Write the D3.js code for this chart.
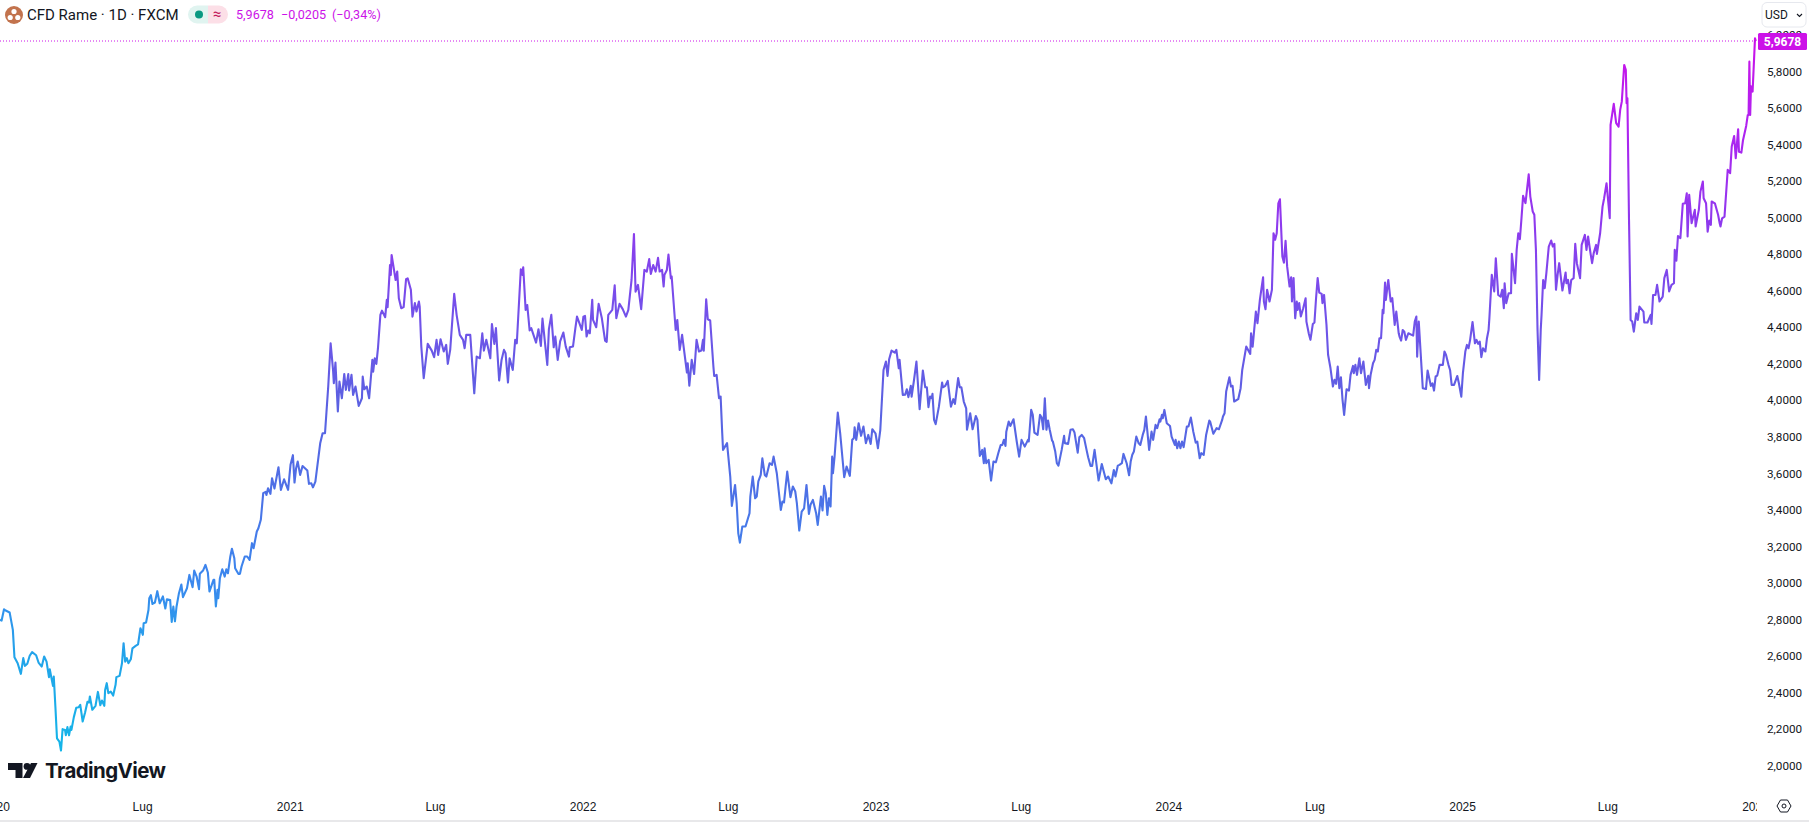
<!DOCTYPE html>
<html lang="it">
<head>
<meta charset="utf-8">
<title>CFD Rame</title>
<script src="https://cdn.jsdelivr.net/npm/d3@7"></script>
<style>
  html, body { margin: 0; padding: 0; background: #fff; }
  svg { display: block; font-family: Roboto, "Noto Sans", sans-serif; }
</style>
</head>
<body>
<svg id="chart" width="1809" height="822"></svg>
<script>
// Copper CFD daily closes: calendar days since the start of 2020, and prices in USD.
const startDate = new Date(2020, 0, 1);
const days = [
  5,7,10,12,17,21,23,27,31,34,
  36,39,42,45,50,53,57,60,63,66,
  67,71,72,74,76,79,81,83,86,87,
  89,91,93,94,97,100,103,105,108,111,
  114,116,117,120,124,127,130,132,135,136,
  138,140,143,146,149,150,154,157,159,161,
  163,165,168,170,174,177,180,183,184,187,
  190,191,193,195,198,201,204,208,211,213,
  217,219,221,223,225,228,231,233,238,241,
  245,247,250,253,254,258,261,264,266,271,
  272,274,276,277,279,282,285,287,289,292,
  294,297,298,302,304,306,310,313,316,319,
  321,325,327,330,333,336,337,339,342,344,
  347,352,355,359,364,367,370,372,374,376,
  379,382,388,390,393,395,398,404,407,410,
  414,417,420,421,423,426,428,431,434,436,
  439,440,443,445,448,452,456,457,459,462,
  465,469,470,472,474,476,479,481,485,487,
  488,491,492,493,498,500,502,505,508,511,
  513,517,519,522,524,527,528,530,533,538,
  543,546,549,551,554,558,561,563,566,571,
  574,578,582,584,586,591,596,599,603,606,
  608,611,616,618,621,623,627,630,633,635,
  638,640,644,647,649,654,656,657,660,662,
  665,667,673,676,679,681,687,689,692,695,
  697,700,703,707,710,714,715,719,722,724,
  727,730,732,734,736,738,740,743,744,748,
  751,755,759,761,763,768,771,773,777,781,
  785,788,792,795,797,800,804,808,811,814,
  816,819,822,825,827,830,832,833,836,838,
  841,842,847,849,852,855,861,862,864,867,
  870,873,876,879,881,882,885,887,890,894,
  895,898,901,903,905,906,911,915,917,921,
  923,925,927,930,934,939,940,943,946,948,
  950,953,955,958,960,964,967,969,973,978,
  980,982,984,986,990,993,996,998,1001,1004,
  1007,1010,1013,1015,1018,1022,1024,1028,1030,1032,
  1034,1036,1038,1040,1042,1043,1045,1049,1052,1057,
  1060,1064,1067,1069,1070,1072,1075,1078,1081,1084,
  1087,1090,1092,1096,1099,1102,1106,1109,1111,1113,
  1116,1120,1122,1125,1126,1130,1133,1135,1137,1140,
  1141,1144,1147,1151,1155,1158,1160,1162,1164,1166,
  1167,1169,1171,1175,1179,1180,1183,1186,1190,1193,
  1195,1199,1201,1203,1206,1209,1210,1214,1217,1221,
  1223,1226,1229,1231,1232,1234,1237,1240,1243,1246,
  1249,1252,1254,1256,1258,1259,1262,1264,1268,1272,
  1275,1278,1282,1286,1287,1290,1292,1294,1298,1301,
  1303,1305,1307,1309,1311,1313,1316,1317,1320,1322,
  1324,1328,1331,1332,1336,1339,1342,1344,1348,1350,
  1353,1356,1359,1361,1364,1366,1369,1374,1378,1383,
  1386,1390,1393,1395,1398,1400,1403,1405,1409,1412,
  1414,1416,1418,1421,1424,1426,1429,1431,1433,1437,
  1440,1442,1445,1447,1450,1451,1453,1454,1456,1459,
  1463,1465,1469,1470,1472,1474,1476,1478,1480,1484,
  1486,1489,1492,1495,1497,1500,1502,1505,1508,1512,
  1513,1517,1521,1524,1528,1529,1531,1533,1537,1539,
  1541,1543,1548,1551,1553,1558,1563,1564,1566,1570,
  1572,1575,1579,1580,1582,1584,1587,1590,1592,1594,
  1596,1598,1600,1603,1605,1607,1609,1612,1614,1615,
  1617,1619,1621,1622,1624,1626,1629,1632,1633,1636,
  1638,1641,1643,1645,1647,1649,1652,1653,1655,1658,
  1660,1663,1666,1668,1670,1672,1674,1676,1678,1680,
  1683,1686,1688,1691,1692,1694,1696,1699,1701,1704,
  1707,1710,1711,1713,1716,1718,1720,1722,1724,1726,
  1728,1729,1731,1732,1735,1738,1740,1743,1745,1748,
  1749,1751,1753,1755,1757,1760,1766,1768,1770,1771,
  1773,1778,1782,1784,1788,1790,1792,1794,1796,1799,
  1803,1805,1807,1810,1812,1814,1817,1821,1823,1826,
  1828,1831,1833,1835,1837,1840,1843,1845,1847,1849,
  1851,1853,1856,1858,1860,1861,1864,1867,1869,1872,
  1875,1877,1879,1880,1882,1885,1888,1889,1893,1895,
  1897,1899,1901,1903,1906,1910,1912,1915,1917,1919,
  1921,1923,1925,1926,1928,1930,1932,1935,1938,1940,
  1942,1944,1946,1948,1952,1956,1957,1959,1961,1963,
  1966,1968,1970,1974,1976,1980,1982,1984,1987,1989,
  1991,1994,1995,1999,2002,2004,2007,2011,2012,2016,
  2019,2022,2024,2026,2029,2031,2032,2033,2035,2037,
  2039,2041,2044,2046,2048,2053,2054,2058,2062,2063,
  2065,2068,2070,2073,2077,2079,2082,2085,2088,2091,
  2092,2094,2096,2099,2102,2105,2107,2108,2110,2113,
  2117,2118,2122,2124,2127,2128,2131,2133,2135,2137,
  2138,2142,2146,2148,2149,2151,2154,2158,2161,2163,
  2166,2168,2171,2172,2175,2177,2181,2183,2184,2185,
  2186,2187,2189,2192,2193
];
const closes = [
  2.797,2.793,2.855,2.848,2.837,2.742,2.592,2.559,2.501,2.587,
  2.545,2.556,2.600,2.620,2.603,2.563,2.541,2.596,2.568,2.483,
  2.526,2.435,2.486,2.322,2.148,2.130,2.081,2.198,2.194,2.165,
  2.209,2.165,2.212,2.194,2.264,2.315,2.318,2.331,2.240,2.289,
  2.348,2.344,2.377,2.304,2.326,2.402,2.329,2.355,2.326,2.413,
  2.450,2.395,2.404,2.382,2.441,2.483,2.490,2.559,2.669,2.568,
  2.587,2.559,2.581,2.641,2.654,2.662,2.751,2.715,2.778,2.782,
  2.851,2.915,2.932,2.884,2.892,2.954,2.888,2.925,2.859,2.910,
  2.906,2.786,2.870,2.789,2.870,2.943,2.990,2.921,2.970,3.043,
  2.976,3.067,3.034,2.965,3.049,3.067,3.098,3.056,2.952,3.016,
  3.016,2.870,2.961,2.915,3.025,3.074,3.034,3.074,3.052,3.144,
  3.186,3.134,3.080,3.049,3.049,3.089,3.144,3.144,3.125,3.217,
  3.189,3.281,3.299,3.345,3.491,3.498,3.481,3.518,3.487,3.573,
  3.516,3.633,3.509,3.567,3.509,3.646,3.699,3.549,3.628,3.664,
  3.591,3.640,3.615,3.542,3.545,3.523,3.554,3.764,3.819,3.819,
  4.075,4.312,4.166,4.093,4.206,3.938,4.102,4.011,4.144,4.057,
  4.143,4.053,4.139,4.029,4.075,3.969,4.011,4.130,4.060,4.075,
  4.011,4.221,4.157,4.230,4.199,4.285,4.468,4.491,4.455,4.550,
  4.510,4.741,4.687,4.796,4.659,4.705,4.559,4.504,4.510,4.663,
  4.668,4.605,4.458,4.532,4.486,4.541,4.513,4.294,4.121,4.309,
  4.272,4.236,4.331,4.248,4.334,4.267,4.303,4.199,4.276,4.583,
  4.468,4.358,4.331,4.285,4.358,4.358,4.038,4.239,4.230,4.367,
  4.272,4.331,4.230,4.418,4.309,4.395,4.108,4.221,4.276,4.258,
  4.097,4.230,4.166,4.331,4.312,4.718,4.687,4.729,4.495,4.522,
  4.382,4.395,4.316,4.389,4.298,4.447,4.194,4.389,4.468,4.290,
  4.349,4.221,4.322,4.371,4.294,4.239,4.290,4.294,4.395,4.458,
  4.422,4.385,4.458,4.462,4.349,4.382,4.367,4.550,4.440,4.400,
  4.528,4.449,4.327,4.320,4.468,4.495,4.630,4.449,4.528,4.499,
  4.458,4.495,4.659,4.911,4.595,4.632,4.499,4.714,4.705,4.773,
  4.692,4.741,4.705,4.780,4.705,4.714,4.623,4.687,4.714,4.798,
  4.668,4.678,4.385,4.440,4.276,4.358,4.152,4.203,4.080,4.221,
  4.144,4.331,4.267,4.272,4.331,4.272,4.553,4.444,4.437,4.185,
  4.133,4.139,4.011,4.020,3.819,3.728,3.765,3.582,3.421,3.536,
  3.436,3.271,3.220,3.308,3.308,3.381,3.472,3.582,3.463,3.472,
  3.555,3.591,3.682,3.591,3.582,3.655,3.646,3.691,3.600,3.399,
  3.445,3.440,3.527,3.609,3.469,3.527,3.500,3.436,3.286,3.390,
  3.408,3.536,3.377,3.427,3.454,3.381,3.317,3.472,3.396,3.531,
  3.491,3.372,3.463,3.418,3.691,3.600,3.691,3.932,3.819,3.578,
  3.637,3.586,3.783,3.792,3.852,3.783,3.874,3.805,3.856,3.765,
  3.810,3.761,3.841,3.819,3.737,3.838,4.166,4.212,4.133,4.225,
  4.272,4.261,4.276,4.175,4.221,4.029,4.031,4.060,4.017,4.079,
  4.020,4.111,4.212,3.951,4.163,4.071,4.071,3.962,4.020,4.011,
  4.035,3.892,3.869,3.965,4.097,4.071,4.079,4.106,3.965,4.006,
  3.980,4.121,4.071,4.071,3.993,3.956,3.838,3.929,3.841,3.914,
  3.892,3.695,3.728,3.655,3.737,3.655,3.673,3.560,3.664,3.660,
  3.710,3.755,3.755,3.783,3.750,3.828,3.883,3.859,3.896,3.774,
  3.691,3.783,3.746,3.783,3.774,3.947,3.920,3.823,3.810,3.920,
  3.907,3.841,4.011,3.838,3.889,3.841,3.779,3.774,3.719,3.655,
  3.642,3.728,3.805,3.765,3.761,3.838,3.841,3.823,3.713,3.797,
  3.810,3.792,3.728,3.688,3.640,3.640,3.728,3.560,3.651,3.567,
  3.582,3.545,3.618,3.582,3.642,3.646,3.655,3.706,3.655,3.589,
  3.664,3.701,3.719,3.801,3.764,3.755,3.810,3.838,3.911,3.728,
  3.828,3.783,3.865,3.847,3.896,3.883,3.920,3.901,3.947,3.874,
  3.859,3.801,3.755,3.783,3.737,3.774,3.737,3.774,3.743,3.856,
  3.856,3.905,3.828,3.768,3.774,3.682,3.710,3.701,3.810,3.889,
  3.883,3.816,3.847,3.841,3.892,3.911,3.929,4.048,4.126,4.075,
  4.079,3.993,4.006,4.066,4.166,4.294,4.254,4.367,4.294,4.486,
  4.422,4.550,4.674,4.541,4.499,4.605,4.541,4.605,4.915,4.879,
  4.915,5.079,5.101,4.787,4.754,4.873,4.732,4.623,4.674,4.541,
  4.669,4.449,4.541,4.495,4.532,4.459,4.504,4.559,4.431,4.364,
  4.331,4.418,4.426,4.559,4.669,4.590,4.583,4.532,4.577,4.413,
  4.249,4.175,4.075,4.112,4.090,4.185,4.066,4.126,4.002,3.920,
  4.060,4.053,4.139,4.188,4.148,4.194,4.139,4.230,4.148,4.212,
  4.084,4.134,4.066,4.139,4.203,4.221,4.276,4.267,4.340,4.340,
  4.495,4.477,4.645,4.550,4.659,4.541,4.559,4.413,4.486,4.367,
  4.349,4.327,4.385,4.376,4.331,4.367,4.354,4.431,4.459,4.239,
  4.431,4.066,4.062,4.163,4.079,4.093,4.053,4.130,4.135,4.194,
  4.194,4.267,4.248,4.194,4.166,4.084,4.084,4.133,4.093,4.020,
  4.148,4.267,4.303,4.285,4.331,4.429,4.312,4.331,4.309,4.321,
  4.236,4.285,4.267,4.340,4.385,4.450,4.687,4.596,4.778,4.577,
  4.568,4.605,4.504,4.641,4.532,4.586,4.586,4.802,4.641,4.824,
  4.915,4.882,4.997,5.120,5.080,5.238,5.116,5.034,5.016,4.824,
  4.386,4.111,4.386,4.468,4.659,4.614,4.696,4.842,4.875,4.842,
  4.857,4.605,4.687,4.751,4.601,4.700,4.641,4.659,4.586,4.659,
  4.669,4.857,4.751,4.669,4.851,4.906,4.824,4.897,4.806,4.751,
  4.806,4.851,4.802,4.915,5.061,5.107,5.189,4.997,5.509,5.624,
  5.518,5.499,5.591,5.636,5.837,5.810,5.627,5.655,4.988,4.440,
  4.431,4.376,4.477,4.440,4.513,4.486,4.426,4.426,4.468,4.418,
  4.577,4.577,4.632,4.541,4.568,4.669,4.714,4.596,4.632,4.641,
  4.824,4.765,4.900,4.888,5.076,5.079,5.134,4.897,5.125,4.970,
  5.043,4.952,5.043,5.143,5.198,5.107,5.079,4.924,4.985,4.961,
  5.089,5.079,5.016,4.970,4.952,4.997,5.006,5.262,5.244,5.390,
  5.448,5.326,5.485,5.362,5.357,5.423,5.503,5.563,5.563,5.855,
  5.563,5.720,5.691,5.983,5.9678
];

// Axis contents
const priceTicks = [2,2.2,2.4,2.6,2.8,3,3.2,3.4,3.6,3.8,4,4.2,4.4,4.6,4.8,5,5.2,5.4,5.6,5.8,6];
const timeTicks = ["2020-01-01","2020-07-01","2021-01-01","2021-07-01","2022-01-01","2022-07-01","2023-01-01","2023-07-01","2024-01-01","2024-07-01","2025-01-01","2025-07-01","2026-01-01"];
const timeLabels = ["2020","Lug","2021","Lug","2022","Lug","2023","Lug","2024","Lug","2025","Lug","2026"];

// Line gradient, keyed by price level
const gradientPrices = [2.0,2.6,3.0,3.5,4.0,4.5,5.0,5.5,6.0];
const gradientColors = ["#12b8e8","#22a4ea","#3a88ee","#4d70e6","#5c60e2","#7450ea","#9038ee","#b022f0","#cc12e8"];

// Header readout
const symbolTitle = "CFD Rame · 1D · FXCM";
const lastPrice = 5.9678;
const lastChange = "−0,0205";
const lastChangePct = "(−0,34%)";
const currency = "USD";

const accent = "#cc12e8";
const axisInk = "#131722";
const plotRight = 1757;

const svg = d3.select("#chart");
const parseDate = d3.utcParse("%Y-%m-%d");
const series = days.map((d, i) => ({ date: d3.timeDay.offset(startDate, d), close: closes[i] }));

const x = d3.scaleTime()
  .domain([startDate, new Date(2026, 0, 1)])
  .range([-4, 1755]);
const y = d3.scaleLinear()
  .domain([2, 5.8])
  .range([765.3, 71.7]);

const comma = d3.formatLocale({ decimal: ",", thousands: ".", grouping: [3], currency: ["", ""] });
const priceFormat = comma.format(".4f");

const defs = svg.append("defs");
defs.append("clipPath").attr("id", "plot-clip")
  .append("rect").attr("x", 0).attr("y", 0).attr("width", plotRight).attr("height", 822);

const gradient = defs.append("linearGradient")
  .attr("id", "line-gradient")
  .attr("gradientUnits", "userSpaceOnUse")
  .attr("x1", 0).attr("x2", 0)
  .attr("y1", y(gradientPrices[0]))
  .attr("y2", y(gradientPrices[gradientPrices.length - 1]));
gradient.selectAll("stop").data(gradientPrices).join("stop")
  .attr("offset", d => (d - gradientPrices[0]) / (gradientPrices[gradientPrices.length - 1] - gradientPrices[0]))
  .attr("stop-color", (d, i) => gradientColors[i]);

// Bottom strip of the time scale
svg.append("rect").attr("x", 0).attr("y", 820).attr("width", 1809).attr("height", 2).attr("fill", "#e8e8ea");

// Last-price dotted guide
svg.append("line")
  .attr("x1", 0).attr("x2", plotRight)
  .attr("y1", Math.round(y(lastPrice))).attr("y2", Math.round(y(lastPrice)))
  .attr("stroke", accent).attr("stroke-width", 1).attr("stroke-dasharray", "1 2");

// Price line
svg.append("g").attr("clip-path", "url(#plot-clip)")
  .append("path")
  .datum(series)
  .attr("fill", "none")
  .attr("stroke", "url(#line-gradient)")
  .attr("stroke-width", 2.1)
  .attr("stroke-linejoin", "round")
  .attr("d", d3.line().x(d => x(d.date)).y(d => y(d.close)));

// Price axis
const priceAxis = svg.append("g")
  .attr("transform", "translate(1767,0)")
  .call(d3.axisRight(y).tickValues(priceTicks).tickFormat(priceFormat).tickSize(0).tickPadding(0));
priceAxis.select(".domain").remove();
priceAxis.selectAll("text")
  .attr("fill", axisInk).attr("font-size", 11.7).attr("font-family", "Roboto, sans-serif");

// Time axis, clipped where the price scale begins
const timeAxis = svg.append("g")
  .attr("clip-path", "url(#plot-clip)")
  .append("g")
  .attr("transform", "translate(0,802)")
  .call(d3.axisBottom(x)
    .tickValues(timeTicks.map(s => { const p = parseDate(s); return new Date(p.getUTCFullYear(), p.getUTCMonth(), 1); }))
    .tickFormat((d, i) => timeLabels[i])
    .tickSize(0).tickPadding(0));
timeAxis.select(".domain").remove();
timeAxis.selectAll("text")
  .attr("fill", axisInk).attr("font-size", 12).attr("dy", "0.72em")
  .attr("font-weight", (d, i) => timeLabels[i] === "Lug" ? 400 : 500);

// Last-price tag
svg.append("rect").attr("x", 1758).attr("y", 33).attr("width", 49).attr("height", 17).attr("rx", 1.5).attr("fill", accent);
svg.append("text").attr("x", 1782.5).attr("y", 41.5).attr("dy", "0.35em")
  .attr("text-anchor", "middle").attr("fill", "#fff").attr("font-size", 12).attr("font-weight", 700)
  .text(priceFormat(lastPrice));

// Currency selector
svg.append("rect").attr("x", 1762).attr("y", 2.5).attr("width", 44).attr("height", 24.5).attr("rx", 5)
  .attr("fill", "#fff").attr("stroke", "#e6e8ee");
svg.append("text").attr("x", 1765).attr("y", 14.7).attr("dy", "0.35em")
  .attr("font-size", 12).attr("fill", axisInk).text(currency);
svg.append("path").attr("d", "M1797 14l2.5 2.5 2.5-2.5").attr("fill", "none").attr("stroke", axisInk).attr("stroke-width", 1.1);

// Symbol icon
svg.append("circle").attr("cx", 14).attr("cy", 15).attr("r", 9).attr("fill", "#c2734d");
[[14, 11.5], [10.2, 17.5], [17.8, 17.5]].forEach(([cx, cy]) =>
  svg.append("circle").attr("cx", cx).attr("cy", cy).attr("r", 2.6).attr("fill", "#fff"));

// Header title and quote
svg.append("text").attr("x", 27).attr("y", 14.7).attr("dy", "0.35em")
  .attr("font-size", 15).attr("fill", axisInk).text(symbolTitle);

// Market status pill
svg.append("path").attr("d", "M208 5.5h-11a9 9 0 0 0 0 18h11z").attr("fill", "#e0f4f0");
svg.append("path").attr("d", "M208 5.5h11a9 9 0 0 1 0 18h-11z").attr("fill", "#fcdfe7");
svg.append("circle").attr("cx", 199).attr("cy", 14.5).attr("r", 4).attr("fill", "#089981");
svg.append("text").attr("x", 217).attr("y", 14.2).attr("dy", "0.35em").attr("text-anchor", "middle")
  .attr("font-size", 15).attr("fill", "#c2185b").text("≈");

const quote = [
  { x: 236, text: priceFormat(lastPrice) },
  { x: 281, text: lastChange },
  { x: 332, text: lastChangePct }
];
svg.selectAll("text.quote").data(quote).join("text")
  .attr("class", "quote")
  .attr("x", d => d.x).attr("y", 14.7).attr("dy", "0.35em")
  .attr("font-size", 12.6).attr("fill", accent).text(d => d.text);

// Brand mark
const brand = svg.append("g").attr("fill", "#131722");
brand.append("path").attr("d", "M8 763h14.5v15h-7v-8H8z");
brand.append("circle").attr("cx", 27).attr("cy", 766.4).attr("r", 3.4);
brand.append("path").attr("d", "M31 763h6.5l-7.5 15h-7z");
brand.append("text").attr("x", 45).attr("y", 778)
  .attr("font-family", "Inter, Roboto, sans-serif").attr("font-size", 20.5).attr("font-weight", 700)
  .attr("letter-spacing", "-0.6").text("TradingView");

// Chart settings glyph
const gear = svg.append("g").attr("transform", "translate(1784,806)").attr("fill", "none").attr("stroke", axisInk).attr("stroke-width", 1);
gear.append("path").attr("d", "M-7 0l3.5-6h7l3.5 6-3.5 6h-7z");
gear.append("circle").attr("r", 2);
</script>
</body>
</html>
